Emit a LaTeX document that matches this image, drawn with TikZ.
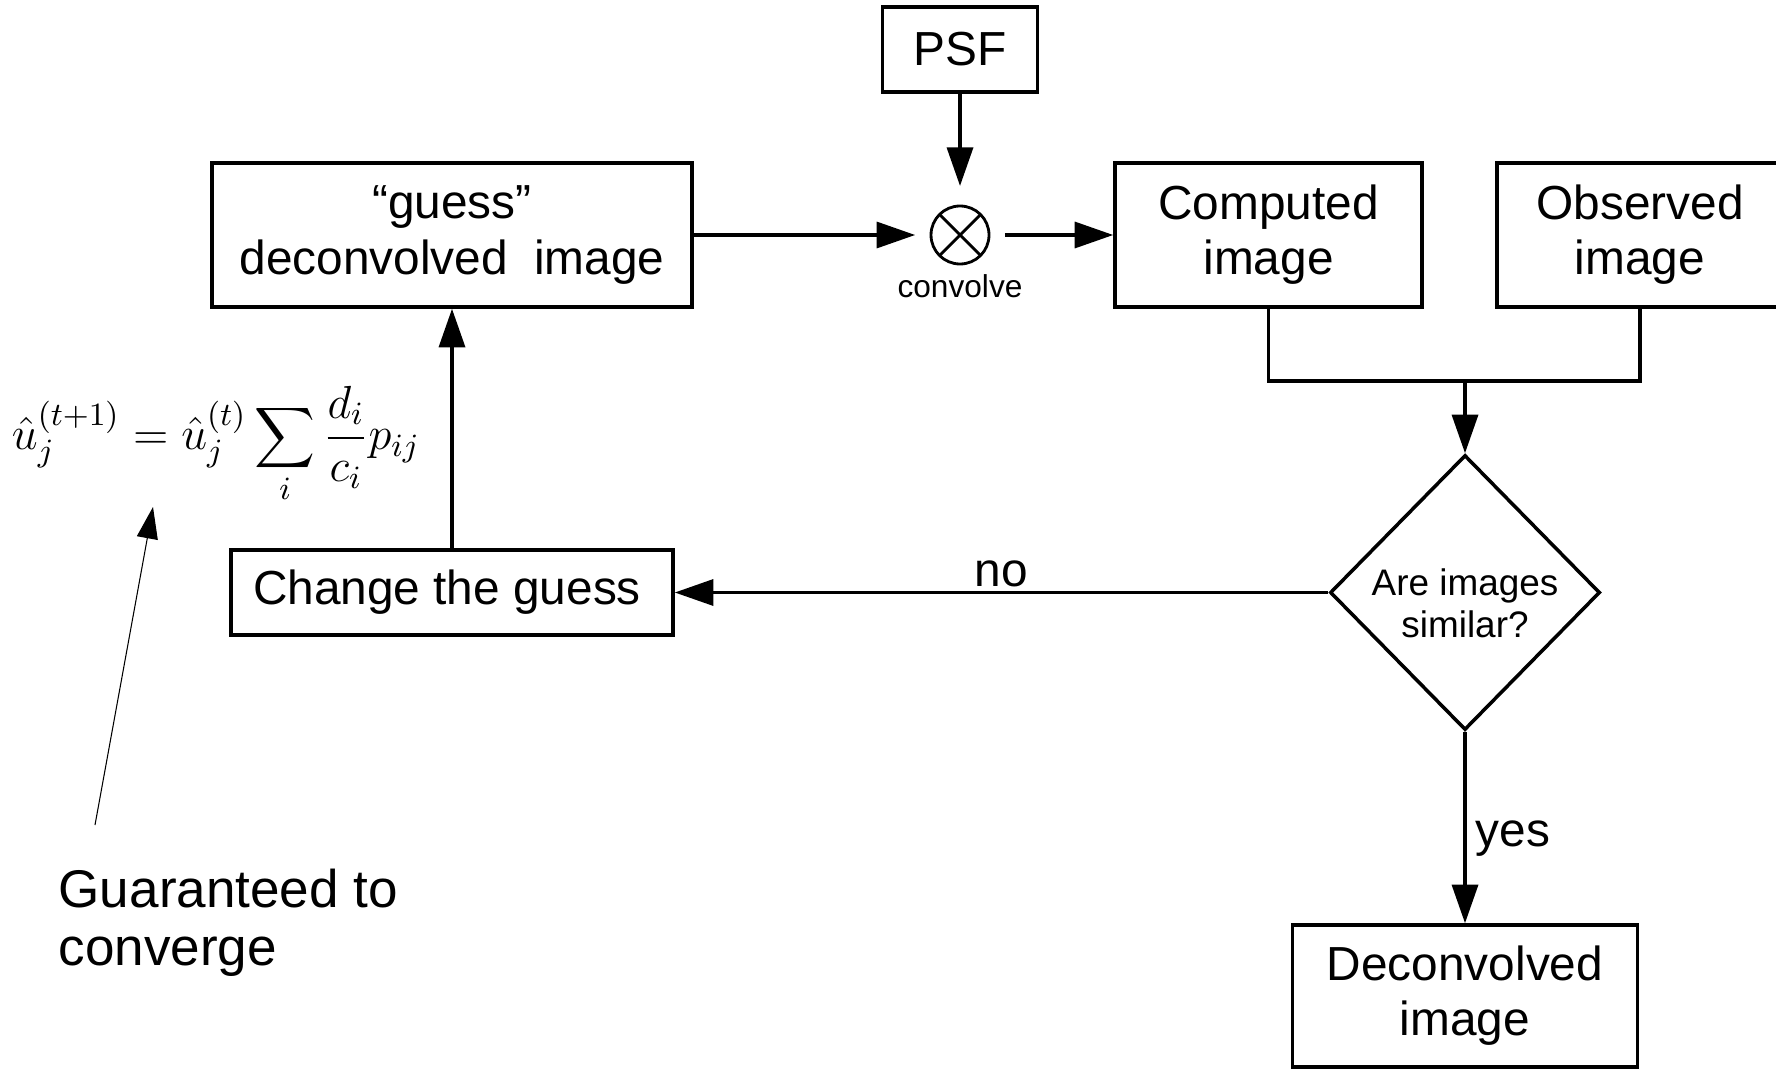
\RequirePackage{fix-cm}
\documentclass[tikz,border=0pt]{standalone}
\usepackage{fontspec}
\setmainfont{Liberation Sans}
\usepackage{amsmath}
\usetikzlibrary{shapes.geometric, arrows.meta, positioning}

\tikzset{
  box/.style={draw, line width=1pt, font=\fontsize{13.6}{15.7}\selectfont, align=center, inner sep=0pt},
  decision/.style={draw, diamond, aspect=1, line width=1pt, font=\fontsize{10.5}{11.8}\selectfont, align=center, inner sep=0pt},
  arr/.style={-{Triangle[length=11pt, width=7.4pt]}, line width=1pt},
  thinarr/.style={-{Triangle[length=9pt, width=6pt]}, line width=0.3pt},
  convop/.style={circle, draw, line width=0.8pt, minimum size=0.58cm, inner sep=0pt, outer sep=4.5pt,
    path picture={\draw[line width=0.8pt] (path picture bounding box.north west) -- (path picture bounding box.south east)
      (path picture bounding box.north east) -- (path picture bounding box.south west);}},
  lbl/.style={font=\fontsize{13.6}{15.7}\selectfont}
}

\begin{document}
\begin{tikzpicture}
  \useasboundingbox (0,0) rectangle (17.76,10.70);

  % Top row
  \node[box, minimum width=1.55cm, minimum height=0.85cm] (psf) at (9.60, 10.205) {PSF};
  \node[convop] (conv) at (9.60, 8.35) {};
  \node[font=\fontsize{9}{10}\selectfont, inner sep=0pt] (convlbl) at (9.60, 7.84) {convolve};
  \node[box, minimum width=4.80cm, minimum height=1.44cm] (guess) at (4.52, 8.35) {“guess”\\deconvolved\ \ image};
  \node[box, minimum width=3.07cm, minimum height=1.44cm] (computed) at (12.685, 8.35) {Computed\\image};
  \node[box, minimum width=2.86cm, minimum height=1.44cm] (observed) at (16.40, 8.35) {Observed\\image};

  \draw[arr, shorten >=1.2pt] (psf) -- (conv);
  \draw[arr] (guess) -- (conv);
  \draw[arr] (conv) -- (computed);

  % Comparison
  \coordinate (merge) at (14.65, 6.89);
  \node[decision, minimum width=2.70cm, minimum height=2.75cm, text height=25.6pt, inner xsep=-2.5pt] (similar) at (14.65, 4.775) {Are images\\similar?};
  \draw[line width=1pt] (computed.south) |- (merge) -| (observed.south);
  \draw[arr] (merge) -- (similar.north);

  % Loop back
  \node[box, minimum width=4.42cm, minimum height=0.85cm] (change) at (4.52, 4.775) {Change the guess\hspace{0.1cm}};
  \draw[arr] (similar.west) -- node[lbl, above, inner sep=1.2pt] {no} (change.east);
  \draw[arr] (change) -- (guess);

  % Result
  \node[box, minimum width=3.45cm, minimum height=1.42cm] (decon) at (14.65, 0.74) {Deconvolved\\image};
  \draw[arr] (similar.south) -- node[lbl, right, inner sep=2.5pt, pos=0.56] {yes} (decon.north);

  % Update rule
  \node[font=\fontsize{13.2}{15}\selectfont, inner sep=0pt] (rule) at (2.16, 6.25)
    {$\displaystyle \hat{u}_j^{(t+1)} = \hat{u}_j^{(t)} \sum_i \frac{d_i}{c_i} p_{ij}$};

  \node[font=\fontsize{15.1}{16.5}\selectfont, align=left, anchor=north west, inner sep=0pt] (note) at (0.58, 2.02) {Guaranteed to\\converge};
  \coordinate (gtail) at (0.95, 2.45);
  \coordinate (gtip) at (1.53, 5.63);
  \draw[thinarr] (gtail) -- (gtip);
\end{tikzpicture}
\end{document}
